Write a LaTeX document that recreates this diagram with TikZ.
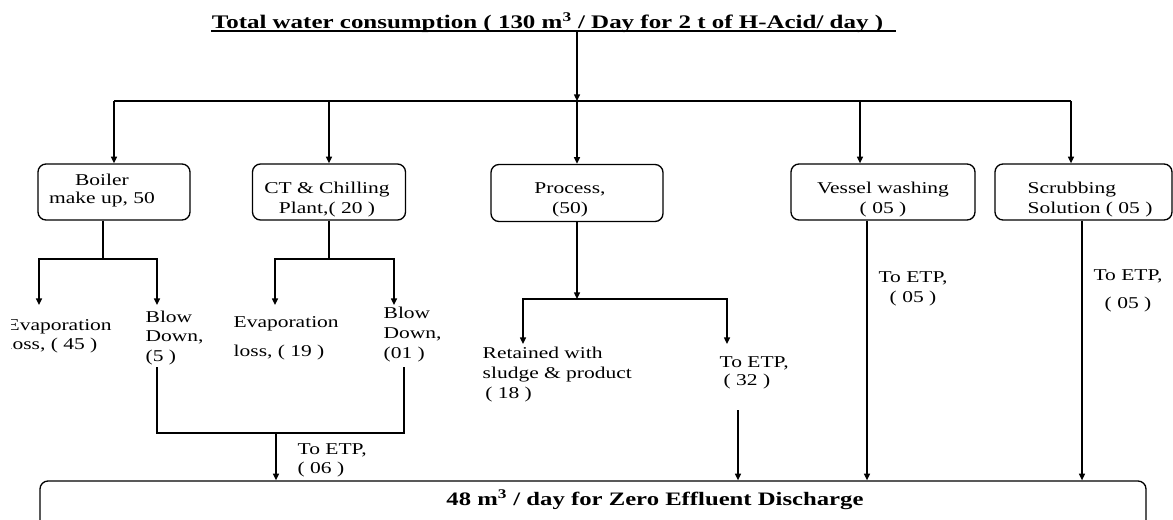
\documentclass[tikz,border=0pt]{standalone}
\usepackage{fontspec}
\setmainfont{Liberation Serif}
\newfontfamily\wide[FakeStretch=1.3]{Liberation Serif}
\usetikzlibrary{arrows.meta}
\begin{document}
\begin{tikzpicture}[x=0.75pt,y=-0.75pt,
  line width=1pt,
  arr/.style={-{Triangle[width=4.5pt,length=5pt]}},
  box/.style={draw,rounded corners=6pt,inner sep=0pt},
  txt/.style={font=\wide\fontsize{12.4}{#1}\selectfont,inner sep=0pt,align=left,anchor=base west},
  ctxt/.style={font=\wide\fontsize{12.4}{#1}\selectfont,inner sep=0pt,align=center,anchor=base},
  bigtxt/.style={font=\wide\bfseries\fontsize{#1}{17}\selectfont,inner sep=0pt,anchor=base}
]
\useasboundingbox (0,0) rectangle (1173,519);
\begin{scope}
\clip (11,-10) rectangle (1190,540);
% title
\node[bigtxt=14.4] (title) at (547.5,28) {Total water consumption ( 130 m\textsuperscript{3} / Day for 2 t of H-Acid/ day )};
\draw[line width=0.9pt] ([shift={(0,3)}]title.base west) -- ([shift={(12,3)}]title.base east);
\coordinate (t0) at (577,31);
\coordinate (bus) at (577,101);
\coordinate (busL) at (114,101);
\coordinate (busR) at (1071,101);
\coordinate (vd) at (860,101);
\draw[arr] (t0) -- (bus);
\draw (busL) -- (busR);
% boxes
\node[box,minimum width=114pt,minimum height=42pt] (boiler) at (114,192) {};
\node[box,minimum width=114.75pt,minimum height=42pt] (ct) at (329,192) {};
\node[box,minimum width=129pt,minimum height=42.75pt] (process) at (577,193) {};
\node[box,minimum width=138pt,minimum height=42pt] (vessel) at (883,192) {};
\node[box,minimum width=132.75pt,minimum height=42pt] (scrub) at (1083.5,192) {};
\node[ctxt=13.5] (boilerT) at (102,203) {Boiler\\make up, 50};
\node[ctxt=15] (ctT) at (327,213) {CT \& Chilling\\Plant,( 20 )};
\node[ctxt=15] (processT) at (570,213) {Process,\\(50)};
\node[ctxt=15] (vesselT) at (883,213) {Vessel washing\\( 05 )};
\node[txt=15] (scrubT) at (1027,213) {Scrubbing\\Solution ( 05 )};
% drops
\draw[arr] (busL) -- (boiler.north);
\draw[arr] (ct.north |- busL) -- (ct.north);
\draw[arr] (bus) -- (process.north);
\draw[arr] (vd) -- (vd |- vessel.north);
\draw[arr] (busR) -- (busR |- scrub.north);
% boiler branches
\coordinate (bj) at (103,259);
\coordinate (be) at (39,305);
\coordinate (bb) at (157,305);
\draw (bj |- boiler.south) -- (bj);
\draw[arr] (bj) -| (be);
\draw[arr] (bj) -| (bb);
\node[txt=14.25] (bevap) at (6,349) {Evaporation\\loss, ( 45 )};
\node[txt=14.6] (bblow) at (145,361) {Blow\\Down,\\(5 )};
% CT branches
\coordinate (cj) at (329,259);
\coordinate (ce) at (275,305);
\coordinate (cb) at (394,305);
\draw (cj |- ct.south) -- (cj);
\draw[arr] (cj) -| (ce);
\draw[arr] (cj) -| (cb);
\node[txt=21.75] (cevap) at (233,356) {Evaporation\\loss, ( 19 )};
\node[txt=15] (cblow) at (383,358) {Blow\\Down,\\(01 )};
% process branches
\coordinate (pj) at (577,299);
\coordinate (pl) at (523,344);
\coordinate (pr) at (727,344);
\draw[arr] (process.south) -- (pj);
\draw[arr] (pj) -| (pl);
\draw[arr] (pj) -| (pr);
\node[txt=15] (ret) at (482,398) {Retained with\\sludge \& product\\\hspace{2pt}( 18 )};
\node[txt=13.5] (petp) at (719,385) {To ETP,\\\hspace{3pt}( 32 )};
% bottom box
\node[box,minimum width=829.5pt,minimum height=45pt] (bottom) at (593,511) {};
\node[bigtxt=14.25] (zed) at (655,505) {48 m\textsuperscript{3} / day for Zero Effluent Discharge};
% blow-down collection
\coordinate (bbs) at (157,367);
\coordinate (cbs) at (404,367);
\coordinate (jb) at (276,433);
\draw (bbs) |- (jb) -| (cbs);
\draw[arr] (jb) -- (jb |- bottom.north);
\node[txt=14.25] (betp) at (297,473) {To ETP,\\( 06 )};
% other ETP lines
\coordinate (pe) at (738,410);
\coordinate (ve) at (867,220);
\coordinate (se) at (1082,220);
\draw[arr] (pe) -- (pe |- bottom.north);
\draw[arr] (ve |- vessel.south) -- (ve |- bottom.north);
\draw[arr] (se |- scrub.south) -- (se |- bottom.north);
\node[ctxt=15] (vetp) at (913,302) {To ETP,\\( 05 )};
\node[ctxt=21] (setp) at (1128,308) {To ETP,\\( 05 )};
\end{scope}
\end{tikzpicture}
\end{document}
